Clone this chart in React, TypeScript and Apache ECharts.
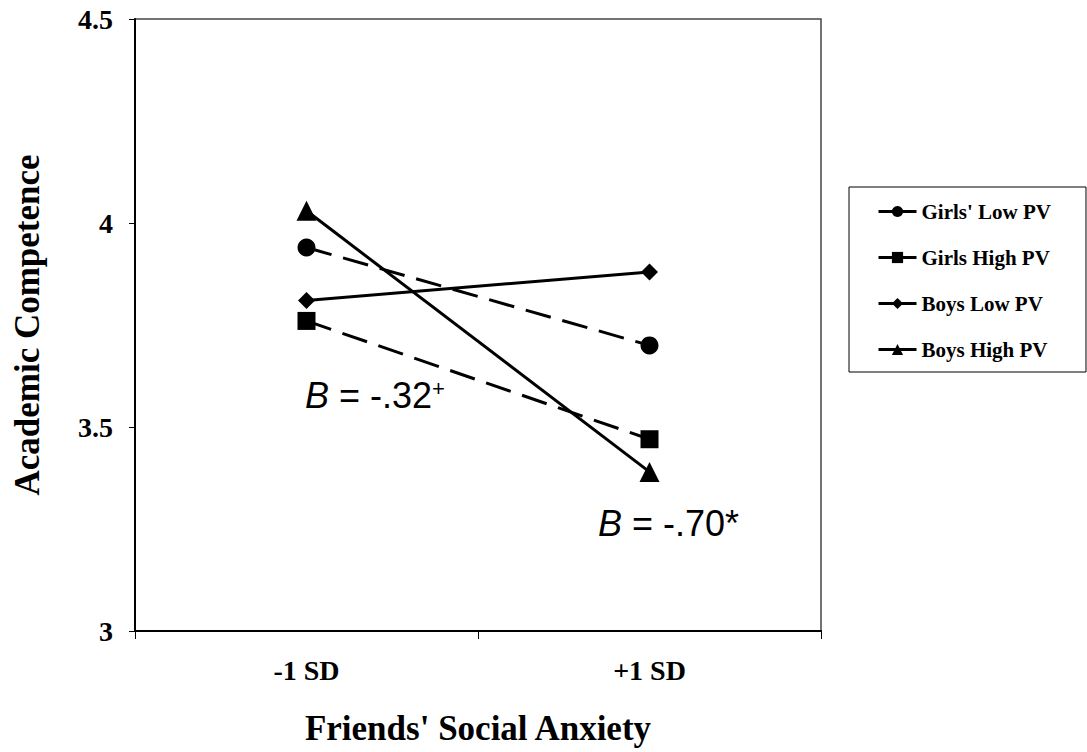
import React, { useEffect, useRef } from "react";
import * as echarts from "echarts";

const categories = ["-1 SD", "+1 SD"];
const girlsLowPV = [3.94, 3.70];
const girlsHighPV = [3.76, 3.47];
const boysLowPV = [3.81, 3.88];
const boysHighPV = [4.03, 3.39];
const seriesNames = ["Girls' Low PV", "Girls High PV", "Boys Low PV", "Boys High PV"];
const yTicks = { min: 3, max: 4.5, interval: 0.5 };

const SERIF = "'Liberation Serif', 'Times New Roman', serif";
const SANS = "'Liberation Sans', Arial, sans-serif";

export default function App() {
  const ref = useRef<HTMLDivElement>(null);
  useEffect(() => {
    if (!ref.current) return;
    const chart = echarts.init(ref.current, undefined, { renderer: "svg" });
    const mk = (name: string, data: number[], symbol: string, size: number, dashed: boolean) => ({
      name,
      type: "line",
      data,
      symbol,
      symbolSize: size,
      showSymbol: true,
      itemStyle: { color: "#000" },
      lineStyle: { color: "#000", width: 3, type: dashed ? [26, 12] : "solid" },
      emphasis: { disabled: true },
    });
    chart.setOption({
      animation: false,
      backgroundColor: "#fff",
      grid: {
        left: 135,
        right: 266,
        top: 19,
        bottom: 121,
        show: true,
        borderColor: "#444",
        borderWidth: 1.5,
      },
      legend: {
        orient: "vertical",
        left: 849,
        top: 187,
        padding: [14, 35, 12, 28],
        itemGap: 25,
        itemWidth: 38,
        itemHeight: 14,
        borderColor: "#000",
        borderWidth: 1,
        data: seriesNames,
        lineStyle: { type: "solid", width: 3 },
        textStyle: { fontFamily: SERIF, fontWeight: "bold", fontSize: 21, color: "#000" },
      },
      xAxis: {
        type: "category",
        data: categories,
        boundaryGap: true,
        name: "Friends' Social Anxiety",
        nameLocation: "middle",
        nameGap: 80,
        nameTextStyle: { fontFamily: SERIF, fontWeight: "bold", fontSize: 35, color: "#000" },
        axisLine: { lineStyle: { color: "#000", width: 2 } },
        axisTick: { show: true, length: 8, lineStyle: { color: "#000", width: 1 } },
        axisLabel: { fontFamily: SERIF, fontWeight: "bold", fontSize: 28, color: "#000", margin: 25 },
        splitLine: { show: false },
      },
      yAxis: {
        type: "value",
        min: yTicks.min,
        max: yTicks.max,
        interval: yTicks.interval,
        name: "Academic Competence",
        nameLocation: "middle",
        nameGap: 90,
        nameTextStyle: { fontFamily: SERIF, fontWeight: "bold", fontSize: 35, color: "#000" },
        axisLine: { show: true, lineStyle: { color: "#000", width: 2 } },
        axisTick: { show: true, length: 6, lineStyle: { color: "#000", width: 1 } },
        axisLabel: { fontFamily: SERIF, fontWeight: "bold", fontSize: 28, color: "#000", margin: 22 },
        splitLine: { show: false },
      },
      series: [
        mk(seriesNames[0], girlsLowPV, "circle", 18, true),
        mk(seriesNames[1], girlsHighPV, "rect", 18, true),
        mk(seriesNames[2], boysLowPV, "diamond", 17, false),
        mk(seriesNames[3], boysHighPV, "triangle", 20, false),
      ],
      graphic: [
        {
          type: "text",
          left: 305,
          top: 377,
          style: {
            text: "{b|B}{n| = -.32}{s|+}",
            rich: {
              b: { fontFamily: SANS, fontStyle: "italic", fontSize: 36, fill: "#000" },
              n: { fontFamily: SANS, fontSize: 36, fill: "#000" },
              s: { fontFamily: SANS, fontSize: 22, fill: "#000", verticalAlign: "top", padding: [0, 0, 14, 0] },
            },
          },
        },
        {
          type: "text",
          left: 598,
          top: 505,
          style: {
            text: "{b|B}{n| = -.70*}",
            rich: {
              b: { fontFamily: SANS, fontStyle: "italic", fontSize: 36, fill: "#000" },
              n: { fontFamily: SANS, fontSize: 36, fill: "#000" },
            },
          },
        },
      ],
    });
    return () => chart.dispose();
  }, []);
  return <div ref={ref} style={{ width: 1087, height: 752, position: "fixed", left: 0, top: 0 }} />;
}
